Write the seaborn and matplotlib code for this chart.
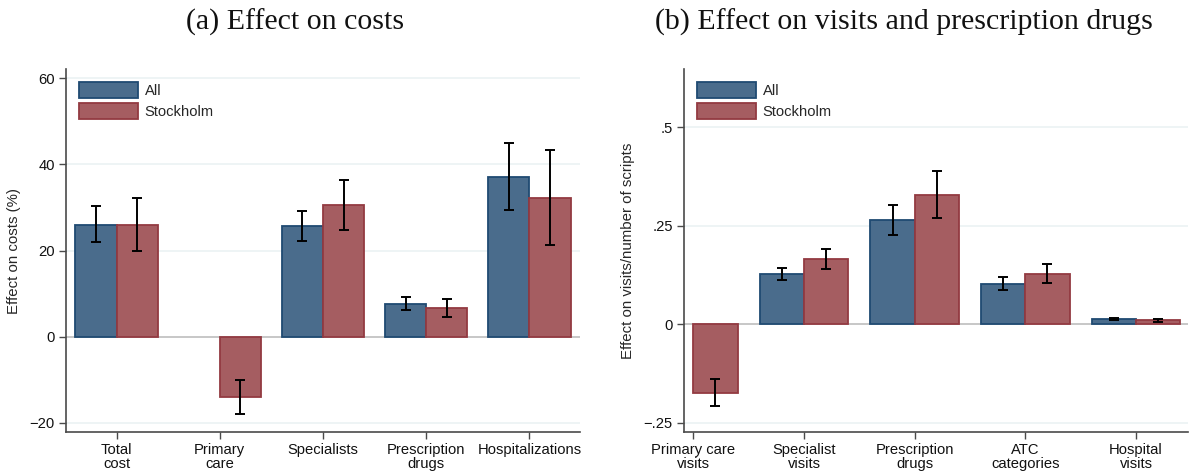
import numpy as np
import pandas as pd
import matplotlib
matplotlib.use("Agg")
import matplotlib.pyplot as plt
import seaborn as sns

# ---------------- data ----------------
groups = ["All", "Stockholm"]

cost_cats = ["Total\ncost", "Primary\ncare", "Specialists", "Prescription\ndrugs", "Hospitalizations"]
cost_all = [26.0, np.nan, 25.7, 7.5, 37.2]
cost_all_lo = [21.9, np.nan, 22.2, 6.1, 29.4]
cost_all_hi = [30.4, np.nan, 29.3, 9.1, 45.1]
cost_sth = [26.0, -14.0, 30.5, 6.7, 32.2]
cost_sth_lo = [19.8, -17.9, 24.7, 4.6, 21.2]
cost_sth_hi = [32.2, -10.0, 36.3, 8.8, 43.3]

vis_cats = ["Primary care\nvisits", "Specialist\nvisits", "Prescription\ndrugs", "ATC\ncategories", "Hospital\nvisits"]
vis_all = [np.nan, 0.127, 0.264, 0.102, 0.013]
vis_all_lo = [np.nan, 0.112, 0.227, 0.088, 0.010]
vis_all_hi = [np.nan, 0.142, 0.304, 0.119, 0.015]
vis_sth = [-0.173, 0.166, 0.328, 0.128, 0.010]
vis_sth_lo = [-0.207, 0.141, 0.270, 0.105, 0.006]
vis_sth_hi = [-0.139, 0.191, 0.390, 0.153, 0.014]

cost_ticks = [-20, 0, 20, 40, 60]
cost_ticklabels = ["\u221220", "0", "20", "40", "60"]
vis_ticks = [-0.25, 0, 0.25, 0.5]
vis_ticklabels = ["\u2212.25", "0", ".25", ".5"]

# ---------------- style ----------------
sns.set_theme(style="white")
plt.rcParams["font.family"] = ["Liberation Sans", "DejaVu Sans"]

fill_colors = {"All": "#4a6c8c", "Stockholm": "#a55d61"}
edge_colors = {"All": "#1f4a72", "Stockholm": "#933a41"}
grid_color = "#ebf2f4"
spine_color = "#4a4a4a"


def long_frame(cats, a, a_lo, a_hi, s, s_lo, s_hi):
    rows = []
    for i, c in enumerate(cats):
        rows.append(dict(cat=c, grp="All", val=a[i], lo=a_lo[i], hi=a_hi[i]))
        rows.append(dict(cat=c, grp="Stockholm", val=s[i], lo=s_lo[i], hi=s_hi[i]))
    return pd.DataFrame(rows)


def draw(ax, df, cats, ylabel, ticks, ticklabels, ylim, xlim):
    # gridlines
    for t in ticks:
        ax.axhline(t, color=grid_color, lw=1.2, zorder=0)
    ax.axhline(0, color="#c4c4c4", lw=1.3, zorder=0.5)
    sns.barplot(data=df.dropna(subset=["val"]), x="cat", y="val", hue="grp",
                order=cats, hue_order=groups, palette=fill_colors,
                errorbar=None, width=0.8, saturation=1, ax=ax, zorder=2,
                linewidth=1.3)
    for cont, g in zip(ax.containers, groups):
        sub = df[df.grp == g].set_index("cat")
        xs, ys, lo, hi = [], [], [], []
        for bar in cont:
            bar.set_edgecolor(edge_colors[g])
            xc = bar.get_x() + bar.get_width() / 2
            idx = int(round(xc))
            r = sub.loc[cats[idx]]
            xs.append(xc)
            ys.append(r.val)
            lo.append(r.val - r.lo)
            hi.append(r.hi - r.val)
        ax.errorbar(xs, ys, yerr=[lo, hi], fmt="none", ecolor="black",
                    elinewidth=1.4, capsize=3.5, capthick=1.4, zorder=3)
    ax.set_xlim(*xlim)
    ax.set_ylim(*ylim)
    ax.set_yticks(ticks)
    ax.set_yticklabels(ticklabels)
    ax.set_xlabel("")
    ax.set_ylabel(ylabel, fontsize=10.8, labelpad=6)
    ax.tick_params(axis="both", labelsize=10.6, length=5, width=1,
                   color=spine_color, direction="out", pad=3, labelcolor="#111111")
    ax.tick_params(axis="y", left=True)
    ax.tick_params(axis="x", bottom=True)
    for lbl in ax.get_xticklabels():
        lbl.set_linespacing(0.95)
    for s in ["top", "right"]:
        ax.spines[s].set_visible(False)
    for s in ["left", "bottom"]:
        ax.spines[s].set_color(spine_color)
        ax.spines[s].set_linewidth(1.2)
    leg = ax.legend(loc="upper left", frameon=False, fontsize=10.6,
                    handlelength=4.0, handleheight=1.3, handletextpad=0.45,
                    labelspacing=0.3, borderaxespad=0.5, bbox_to_anchor=(0.0, 1.0))
    for h, g in zip(leg.legend_handles, groups):
        h.set_edgecolor(edge_colors[g])
        h.set_linewidth(1.3)


fig = plt.figure(figsize=(11.9, 4.73), dpi=100)
ax1 = fig.add_axes([66 / 1190, 41 / 473, 514 / 1190, 363 / 473])
ax2 = fig.add_axes([684 / 1190, 41 / 473, 504 / 1190, 363 / 473])

df1 = long_frame(cost_cats, cost_all, cost_all_lo, cost_all_hi, cost_sth, cost_sth_lo, cost_sth_hi)
df2 = long_frame(vis_cats, vis_all, vis_all_lo, vis_all_hi, vis_sth, vis_sth_lo, vis_sth_hi)

draw(ax1, df1, cost_cats, "Effect on costs (%)", cost_ticks, cost_ticklabels,
     (-22.2, 62.2), (-0.49, 4.49))
draw(ax2, df2, vis_cats, "Effect on visits/number of scripts", vis_ticks, vis_ticklabels,
     (-0.273, 0.648), (-0.084, 4.47))

fig.text(295 / 1190, 1 - 22 / 473, "(a) Effect on costs", ha="center", va="center",
         fontsize=21.5, family=["Liberation Serif", "DejaVu Serif"], color="#111111")
fig.text(904 / 1190, 1 - 22 / 473, "(b) Effect on visits and prescription drugs",
         ha="center", va="center", fontsize=21.5, family=["Liberation Serif", "DejaVu Serif"],
         color="#111111")

fig.savefig("out.png", dpi=100, facecolor="white")
